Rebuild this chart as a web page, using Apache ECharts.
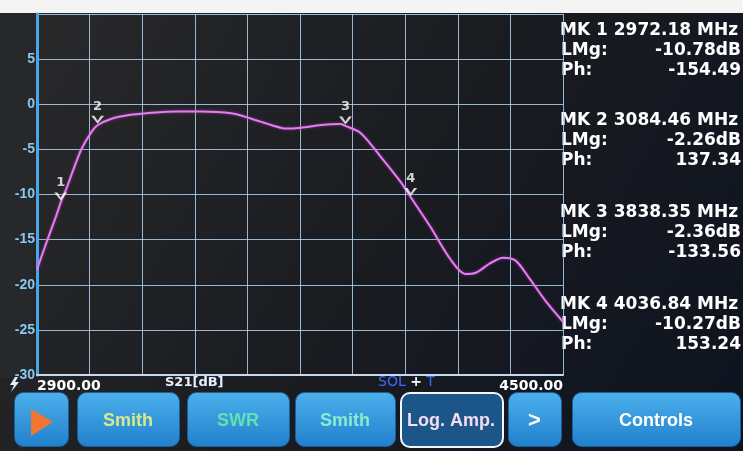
<!DOCTYPE html>
<html>
<head>
<meta charset="UTF-8">
<title>S21 sweep</title>
<style type="text/css">
   body{
      margin:0;
      background-color:#1a1d21;
   }
   #container{
      width:743px;
      height:451px;
   }
</style>
</head>
<body>
<div id="container"></div>
<script src="https://cdn.jsdelivr.net/npm/echarts@6/dist/echarts.min.js"></script>
<script type="text/javascript">
// sweep points (MHz, dB)
var freq = [2900, 2930, 2960, 2973, 2991, 3010, 3036, 3067, 3085, 3127, 3180, 3233, 3324, 3400, 3491, 3552, 3612, 3658, 3703, 3764, 3824, 3838, 3885, 3945, 4006, 4037, 4097, 4158, 4203, 4233, 4279, 4318, 4355, 4400, 4445, 4500];
var s21 = [-18.3, -15.2, -12.2, -10.8, -9.2, -7.3, -4.9, -3.0, -2.3, -1.6, -1.2, -1.0, -0.8, -0.8, -1.0, -1.6, -2.3, -2.7, -2.6, -2.3, -2.2, -2.4, -3.2, -5.8, -8.6, -10.3, -13.6, -17.2, -18.8, -18.7, -17.6, -17.0, -17.3, -19.4, -21.7, -24.1];

// markers
var mkFreq = [2972.18, 3084.46, 3838.35, 4036.84];
var mkDb = [-10.78, -2.26, -2.36, -10.27];
var mkPhase = ['-154.49', '137.34', '-133.56', '153.24'];

// buttons along the bottom
var btnText = ['', 'Smith', 'SWR', 'Smith', 'Log. Amp.', '>', 'Controls'];
var btnColor = ['#fff', '#d6ea8c', '#62e2b4', '#86ecd0', '#f4dcf4', '#ffffff', '#ffffff'];

var dom = document.getElementById("container");
var myChart = echarts.init(dom);

var line = [];
for (var i = 0; i < freq.length; i++) {
    line.push([freq[i], s21[i]]);
}
var marks = [];
for (var i = 0; i < mkFreq.length; i++) {
    marks.push({ value: [mkFreq[i], mkDb[i]], name: String(i + 1) });
}

var font = '"DejaVu Sans", sans-serif';
var font2 = '"Liberation Sans", Arial, sans-serif';
var graphics = [
    { type: 'rect', left: 0, top: 0, shape: { width: 743, height: 13 }, style: { fill: '#f4f4f4' }, z: 0 },
    { type: 'rect', left: 0, top: 13, shape: { width: 33, height: 365 }, style: { fill: '#26282a' }, z: 0 },
    // little bolt icon
    { type: 'polygon', shape: { points: [[15, 377], [10, 385], [14, 385], [11, 392], [19, 382], [15, 382], [18, 377]] }, style: { fill: '#dfefff' } },
    { type: 'text', left: 165, top: 376, style: { text: 'S21[dB]', fill: '#e8f0ff', font: 'bold 13px ' + font } },
    { type: 'text', left: 378, top: 375, style: {
        text: '{b|SOL} {w|+} {b|T}', font: '14px ' + font,
        rich: { b: { fill: '#3a6cff', font: '14px ' + font }, w: { fill: '#ffffff', font: 'bold 14px ' + font } }
    } }
];

// marker readout panel
var blockTop = [22, 112, 204, 296];
for (var i = 0; i < mkFreq.length; i++) {
    var y = blockTop[i];
    graphics.push({ type: 'text', left: 560, top: y, style: { text: 'MK ' + (i + 1) + ' ' + mkFreq[i].toFixed(2) + ' MHz', fill: '#ffffff', font: 'bold 17px ' + font } });
    graphics.push({ type: 'text', left: 561, top: y + 20, style: { text: 'LMg:', fill: '#ffffff', font: 'bold 17px ' + font } });
    graphics.push({ type: 'text', right: 2, top: y + 20, style: { text: mkDb[i].toFixed(2) + 'dB', fill: '#ffffff', font: 'bold 17px ' + font } });
    graphics.push({ type: 'text', left: 561, top: y + 40, style: { text: 'Ph:', fill: '#ffffff', font: 'bold 17px ' + font } });
    graphics.push({ type: 'text', right: 2, top: y + 40, style: { text: mkPhase[i], fill: '#ffffff', font: 'bold 17px ' + font } });
}

// buttons
var btnX = [14, 77, 187, 295, 400, 508, 572];
var btnW = [54, 102, 102, 100, 102, 53, 168];
for (var i = 0; i < btnText.length; i++) {
    var sel = (i == 4);
    graphics.push({
        type: 'rect', left: btnX[i], top: 392,
        shape: { width: btnW[i], height: 54, r: 9 },
        style: {
            fill: sel ? '#1c5688' : new echarts.graphic.LinearGradient(0, 0, 0, 1, [
                { offset: 0, color: '#4cb0ec' }, { offset: 1, color: '#2180cc' }]),
            stroke: sel ? '#eef6ff' : '#1b5f98', lineWidth: sel ? 2 : 1
        }
    });
    if (btnText[i]) {
        graphics.push({
            type: 'text', x: btnX[i] + btnW[i] / 2, y: 421,
            style: { text: btnText[i], fill: btnColor[i], font: 'bold ' + (i == 5 ? 22 : 18) + 'px ' + font2, align: 'center', verticalAlign: 'middle' },
            z: 10
        });
    }
}
graphics.push({ type: 'polygon', shape: { points: [[31, 409], [31, 436], [53, 422]] }, style: { fill: '#f27532' }, z: 10 });

var option = {
    backgroundColor: new echarts.graphic.LinearGradient(0, 0, 1, 1, [
        { offset: 0, color: '#2a2a2b' },
        { offset: 0.5, color: '#1a1c20' },
        { offset: 1, color: '#0e1320' }
    ]),
    animation: false,
    grid: { left: 37, right: 180, top: 14, bottom: 76 },
    xAxis: {
        type: 'value', min: 2900, max: 4500, interval: 160,
        axisLine: { show: true, onZero: false, lineStyle: { color: '#c6d8ea', width: 2 } },
        axisTick: { show: false },
        splitLine: { lineStyle: { color: 'rgba(175,210,240,0.85)', width: 1 } },
        axisLabel: {
            color: '#ffffff', fontWeight: 'bold', fontSize: 14, fontFamily: font, margin: 4,
            alignMinLabel: 'left', alignMaxLabel: 'right',
            formatter: function (v) {
                return (v == 2900 || v == 4500) ? v.toFixed(2) : '';
            }
        }
    },
    yAxis: {
        type: 'value', min: -30, max: 10, interval: 5,
        axisLine: { show: true, lineStyle: { color: '#4aa6e6', width: 3 } },
        axisTick: { show: false },
        splitLine: { lineStyle: { color: 'rgba(175,210,240,0.85)', width: 1 } },
        axisLabel: {
            color: '#86c8f0', fontWeight: 'bold', fontSize: 14, fontFamily: font2, margin: 2,
            formatter: function (v) { return v == 10 ? '' : v; }
        }
    },
    graphic: graphics,
    series: [
        {
            name: 'S21',
            type: 'line',
            data: line,
            smooth: 0.3,
            showSymbol: false,
            lineStyle: { color: '#e47ef0', width: 2, shadowColor: 'rgba(200,60,220,0.6)', shadowBlur: 3 }
        },
        {
            name: 'markers',
            type: 'scatter',
            data: marks,
            symbol: 'path://M0,0 L3,0 L6,5 L9,0 L12,0 L6,8 Z',
            symbolSize: [13, 8],
            symbolOffset: [0, -5],
            itemStyle: { color: '#ffffff' },
            label: {
                show: true, position: 'top', distance: 3, color: '#ffffff',
                fontWeight: 'bold', fontSize: 13, fontFamily: font,
                formatter: function (p) { return p.name; }
            },
            z: 5
        }
    ]
};
myChart.setOption(option);
</script>
</body>
</html>
